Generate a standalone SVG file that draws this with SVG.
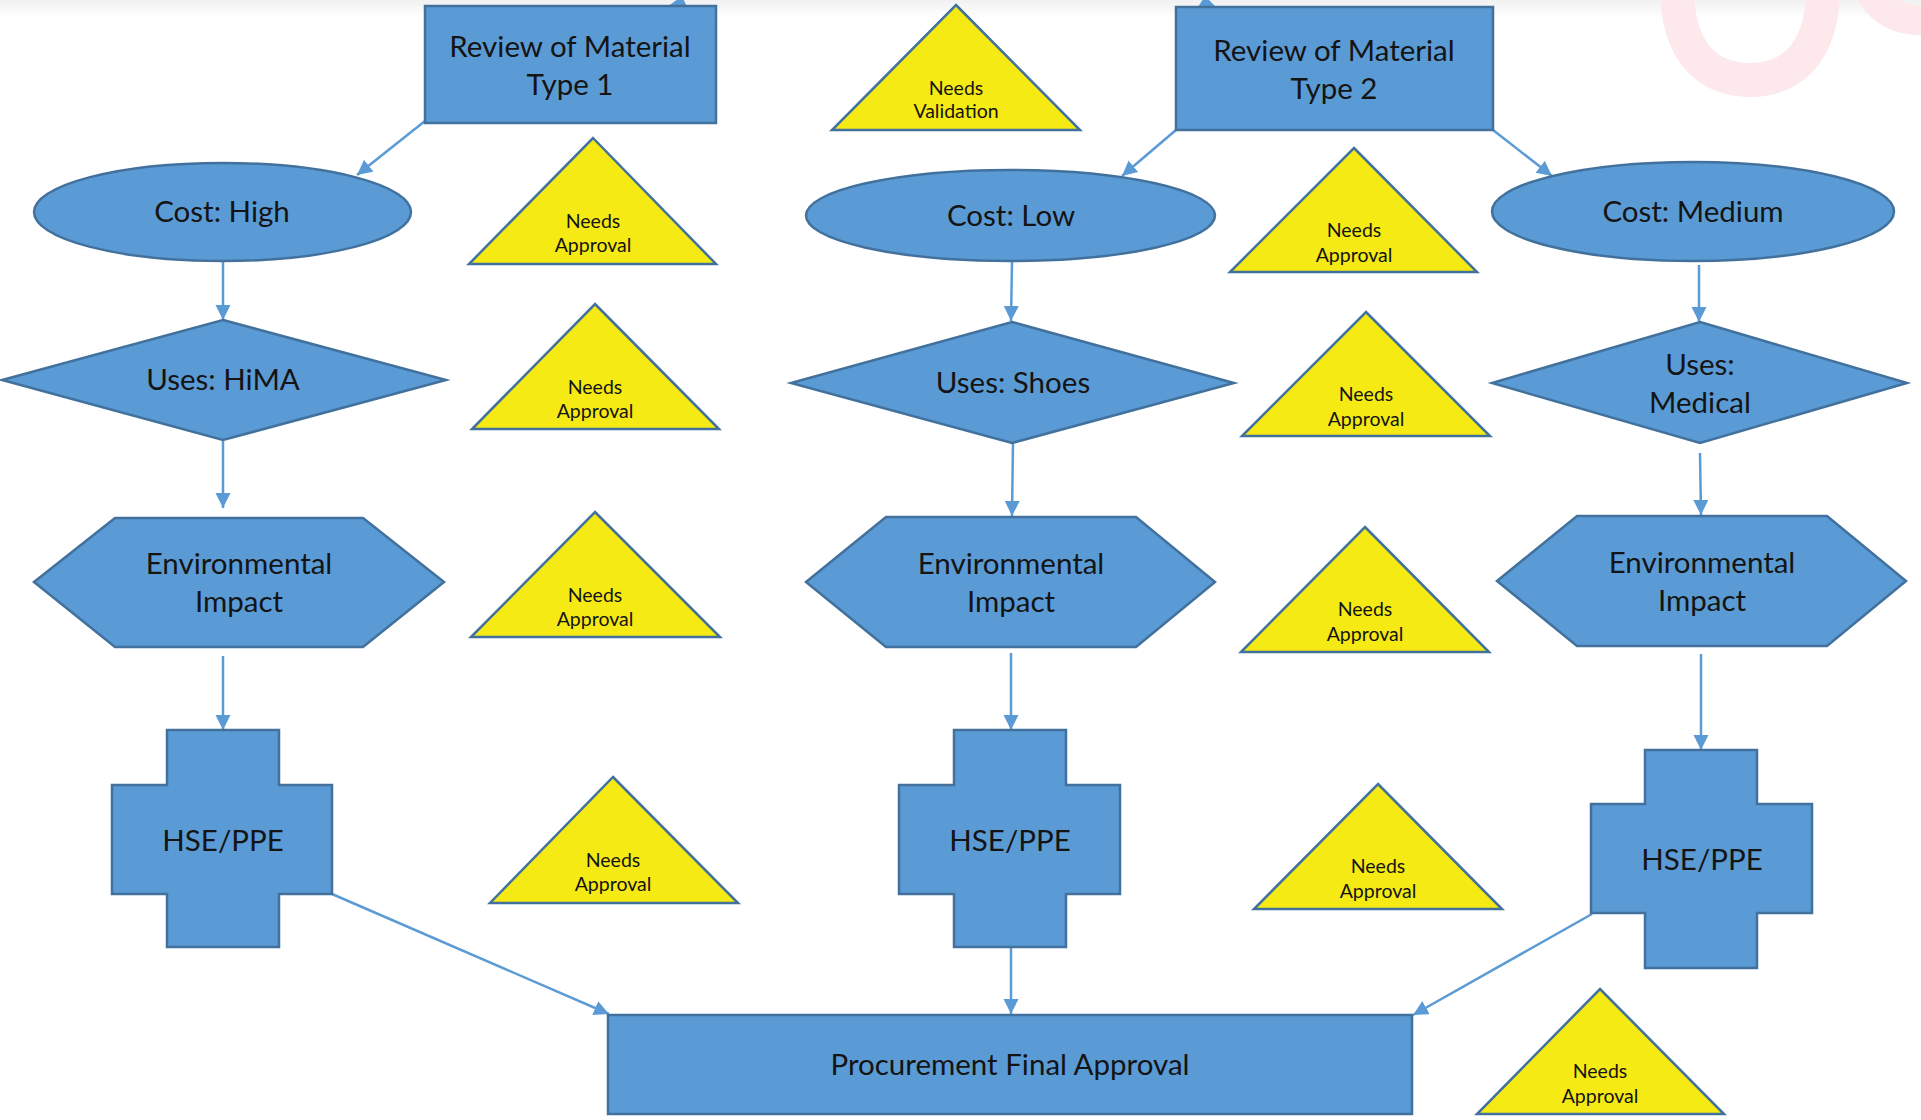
<svg xmlns="http://www.w3.org/2000/svg" width="1921" height="1120" viewBox="0 0 1921 1120">
<defs>
<linearGradient id="topband" x1="0" y1="0" x2="0" y2="1">
<stop offset="0" stop-color="#f1f1f1"/>
<stop offset="1" stop-color="#ffffff"/>
</linearGradient>
<marker id="arr" markerUnits="userSpaceOnUse" markerWidth="16" markerHeight="16" refX="15" refY="7.5" orient="auto">
<path d="M0,0 L15,7.5 L0,15 z" fill="#5B9BD5"/>
</marker>
</defs>
<style>
.shape{fill:#5B9BD5;stroke:#41719C;stroke-width:2.5}
.tri{fill:#F5EA14;stroke:#41719C;stroke-width:2.5}
.lbl{font-family:Lato,"Liberation Sans",sans-serif;font-size:29.5px;fill:#141414;text-anchor:middle}
.tlbl{font-family:Lato,"Liberation Sans",sans-serif;font-size:19.5px;fill:#141414;text-anchor:middle}
.con{stroke:#5B9BD5;stroke-width:2.5;fill:none;marker-end:url(#arr)}
</style>
<rect x="0" y="0" width="1921" height="1120" fill="#ffffff"/>
<rect x="0" y="0" width="1921" height="18" fill="url(#topband)"/>
<g id="watermark" fill="none" stroke="#FDE8EB" stroke-linecap="round">
<path d="M1677,-5 C1680,60 1715,80 1750,80 C1785,80 1820,60 1823,-5" stroke-width="34"/>
<path d="M1872,-5 Q1890,22 1925,20" stroke-width="30"/>
</g>
<g id="connectors">
<path class="con" d="M425,121 L357,175"/>
<path class="con" d="M1176,130 L1122,176"/>
<path class="con" d="M1493,130 L1552,176"/>
<path class="con" d="M223,261 L223,320"/>
<path class="con" d="M223,441 L223,508"/>
<path class="con" d="M223,656 L223,730"/>
<path class="con" d="M332,894 L609,1014"/>
<path class="con" d="M1012,261 L1011,321"/>
<path class="con" d="M1013,443 L1012,516"/>
<path class="con" d="M1011,653 L1011,730"/>
<path class="con" d="M1011,948 L1011,1014"/>
<path class="con" d="M1699,265 L1699,322"/>
<path class="con" d="M1700,453 L1701,515"/>
<path class="con" d="M1701,654 L1701,750"/>
<path class="con" d="M1592,914 L1413,1015"/>
<polygon points="667,7 687,7 682,-4" fill="#5B9BD5"/>
<polygon points="1198,7 1216,7 1205,-4" fill="#5B9BD5"/>
</g>
<g id="review1">
<rect class="shape" x="425" y="6" width="291" height="117"/>
<text class="lbl" x="570" y="57">Review of Material</text>
<text class="lbl" x="570" y="95">Type 1</text>
</g>
<g id="review2">
<rect class="shape" x="1176" y="7" width="317" height="123"/>
<text class="lbl" x="1334" y="61">Review of Material</text>
<text class="lbl" x="1334" y="99">Type 2</text>
</g>
<g id="validation">
<polygon class="tri" points="956,5 1080,130 832,130"/>
<text class="tlbl" x="956" y="95">Needs</text>
<text class="tlbl" x="956" y="118">Validation</text>
</g>
<g id="costHigh">
<ellipse class="shape" cx="222.5" cy="212" rx="188.5" ry="49"/>
<text class="lbl" x="222" y="222">Cost: High</text>
</g>
<g id="costLow">
<ellipse class="shape" cx="1010.5" cy="215.5" rx="204.5" ry="45.5"/>
<text class="lbl" x="1011" y="226">Cost: Low</text>
</g>
<g id="costMedium">
<ellipse class="shape" cx="1693" cy="211.5" rx="201" ry="49.5"/>
<text class="lbl" x="1693" y="222">Cost: Medium</text>
</g>
<g id="usesHiMA">
<polygon class="shape" points="223,320 446,380 223,440 2,380"/>
<text class="lbl" x="223" y="390">Uses: HiMA</text>
</g>
<g id="usesShoes">
<polygon class="shape" points="1012,322 1234,383 1012,443 791,383"/>
<text class="lbl" x="1013" y="393">Uses: Shoes</text>
</g>
<g id="usesMedical">
<polygon class="shape" points="1700,322 1907,383 1700,443 1492,383"/>
<text class="lbl" x="1700" y="375">Uses:</text>
<text class="lbl" x="1700" y="413">Medical</text>
</g>
<g id="env1">
<polygon class="shape" points="34,582 115,518 363,518 444,582 363,647 115,647"/>
<text class="lbl" x="239" y="574">Environmental</text>
<text class="lbl" x="239" y="612">Impact</text>
</g>
<g id="env2">
<polygon class="shape" points="806,582 886,517 1136,517 1215,582 1136,647 886,647"/>
<text class="lbl" x="1011" y="574">Environmental</text>
<text class="lbl" x="1011" y="612">Impact</text>
</g>
<g id="env3">
<polygon class="shape" points="1497,581 1577,516 1827,516 1906,581 1827,646 1577,646"/>
<text class="lbl" x="1702" y="573">Environmental</text>
<text class="lbl" x="1702" y="611">Impact</text>
</g>
<g id="hse1">
<polygon class="shape" points="167,730 279,730 279,785 332,785 332,894 279,894 279,947 167,947 167,894 112,894 112,785 167,785"/>
<text class="lbl" x="223" y="851">HSE/PPE</text>
</g>
<g id="hse2">
<polygon class="shape" points="954,730 1066,730 1066,785 1120,785 1120,894 1066,894 1066,947 954,947 954,894 899,894 899,785 954,785"/>
<text class="lbl" x="1010" y="851">HSE/PPE</text>
</g>
<g id="hse3">
<polygon class="shape" points="1645,750 1757,750 1757,804 1812,804 1812,913 1757,913 1757,968 1645,968 1645,913 1591,913 1591,804 1645,804"/>
<text class="lbl" x="1702" y="870">HSE/PPE</text>
</g>
<g id="procurement">
<rect class="shape" x="608" y="1015" width="804" height="99"/>
<text class="lbl" x="1010" y="1075">Procurement Final Approval</text>
</g>
<g id="approvalA">
<polygon class="tri" points="593,138 716,264 469,264"/>
<text class="tlbl" x="593" y="228">Needs</text>
<text class="tlbl" x="593" y="252">Approval</text>
</g>
<g id="approvalB">
<polygon class="tri" points="595,304 719,429 472,429"/>
<text class="tlbl" x="595" y="394">Needs</text>
<text class="tlbl" x="595" y="418">Approval</text>
</g>
<g id="approvalC">
<polygon class="tri" points="595,512 720,637 471,637"/>
<text class="tlbl" x="595" y="602">Needs</text>
<text class="tlbl" x="595" y="626">Approval</text>
</g>
<g id="approvalD">
<polygon class="tri" points="613,777 738,903 490,903"/>
<text class="tlbl" x="613" y="867">Needs</text>
<text class="tlbl" x="613" y="891">Approval</text>
</g>
<g id="approvalE">
<polygon class="tri" points="1354,148 1477,272 1230,272"/>
<text class="tlbl" x="1354" y="237">Needs</text>
<text class="tlbl" x="1354" y="262">Approval</text>
</g>
<g id="approvalF">
<polygon class="tri" points="1366,312 1490,436 1242,436"/>
<text class="tlbl" x="1366" y="401">Needs</text>
<text class="tlbl" x="1366" y="426">Approval</text>
</g>
<g id="approvalG">
<polygon class="tri" points="1365,527 1489,652 1241,652"/>
<text class="tlbl" x="1365" y="616">Needs</text>
<text class="tlbl" x="1365" y="641">Approval</text>
</g>
<g id="approvalH">
<polygon class="tri" points="1378,784 1502,909 1254,909"/>
<text class="tlbl" x="1378" y="873">Needs</text>
<text class="tlbl" x="1378" y="898">Approval</text>
</g>
<g id="approvalI">
<polygon class="tri" points="1600,989 1724,1114 1477,1114"/>
<text class="tlbl" x="1600" y="1078">Needs</text>
<text class="tlbl" x="1600" y="1103">Approval</text>
</g>
</svg>
